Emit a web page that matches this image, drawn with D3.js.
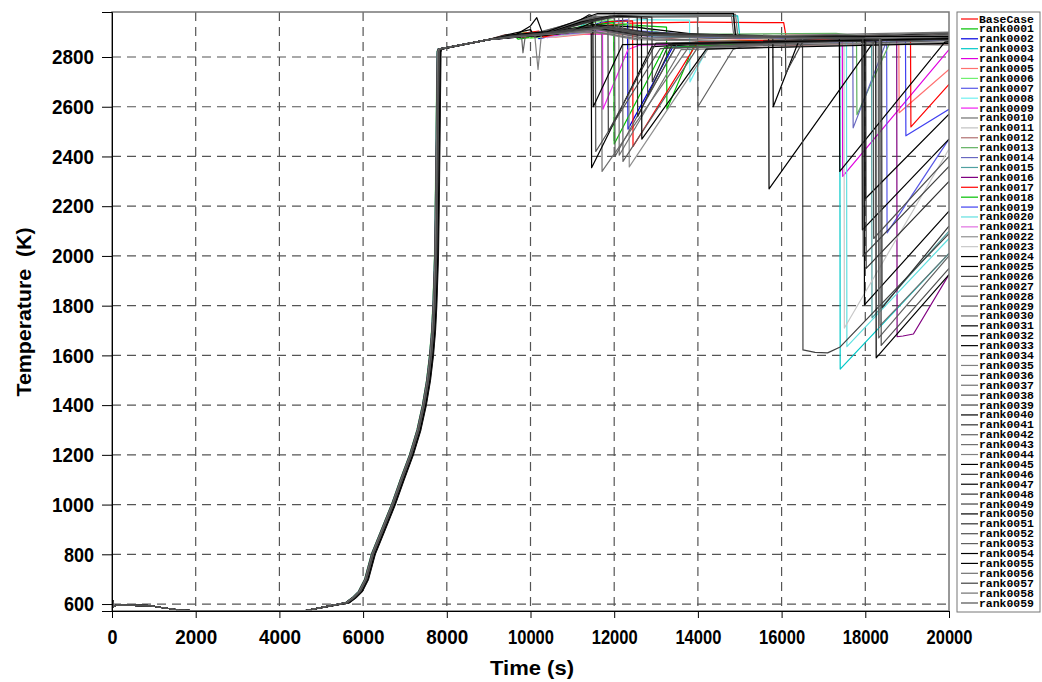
<!DOCTYPE html>
<html>
<head>
<meta charset="utf-8">
<script src="https://cdn.jsdelivr.net/npm/d3@7"></script>
<style>
  body { margin: 0; background: #fff; }
  .tick text { font-family: "Liberation Sans", Arial, sans-serif; font-weight: bold; font-size: 21px; fill: #000; }
  .title { font-family: "Liberation Sans", Arial, sans-serif; font-weight: bold; font-size: 21px; fill: #000; }
  .legend text { font-family: "Liberation Mono", "Courier New", monospace; font-weight: bold; font-size: 10px; fill: #000; }
</style>
</head>
<body>
<div id="chart"></div>
<script>
'use strict'

// legend entries, in drawing order
const seriesNames = ['BaseCase',
  'rank0001','rank0002','rank0003','rank0004','rank0005','rank0006','rank0007','rank0008','rank0009','rank0010',
  'rank0011','rank0012','rank0013','rank0014','rank0015','rank0016','rank0017','rank0018','rank0019','rank0020',
  'rank0021','rank0022','rank0023','rank0024','rank0025','rank0026','rank0027','rank0028','rank0029','rank0030',
  'rank0031','rank0032','rank0033','rank0034','rank0035','rank0036','rank0037','rank0038','rank0039','rank0040',
  'rank0041','rank0042','rank0043','rank0044','rank0045','rank0046','rank0047','rank0048','rank0049','rank0050',
  'rank0051','rank0052','rank0053','rank0054','rank0055','rank0056','rank0057','rank0058','rank0059']

const seriesColors = ['#ff0000',
  '#00c000','#0000e0','#00c8c8','#e000e0','#ff7070','#70f070','#5858e8','#70f0f0','#f020f0','#707070',
  '#c0c0c0','#b07070','#60b060','#6868c0','#50a0a0','#800080','#ff0000','#00c000','#4040f0','#60e0e0',
  '#e070e0','#909090','#c8c8c8','#000000','#000000','#404040','#707070','#606060','#505050','#606060',
  '#000000','#000000','#000000','#707070','#808080','#606060','#707070','#505050','#404040','#000000',
  '#303030','#606060','#707070','#808080','#000000','#303030','#000000','#303030','#404040','#000000',
  '#303030','#505050','#606060','#000000','#000000','#707070','#404040','#707070','#505050']

// small time offset (s) of the heat-up ramp of each run
const riseShift = [0,15,-10,20,5,30,-15,35,10,20,5,45,25,-10,30,15,50,5,20,-5,40,15,10,25,0,60,15,25,35,5,
  20,80,0,30,15,45,10,-10,25,20,15,55,5,25,40,15,70,0,30,15,25,5,40,15,65,10,25,20,0,35]

// common heat-up history (time s, temperature K)
const baseTime = [0,30,120,900,1100,1600,2000,4600,5600,5750,5900,6050,6210,6450,6690,6900,7120,7300,7430,7530,7600,7650,7680,7720,7745,7765,7780,7800,9000]
const baseTemp = [630,590,596,594,588,576,573,573,606,625,650,700,800,900,1000,1100,1200,1300,1400,1500,1600,1700,1800,2000,2300,2600,2820,2832,2870]

// individual histories after 9000 s: [time, temperature]
const tails = [
  [[9400,2884],[10000,2878],[10600,2896],[11200,2905],[11700,2926],[12400,2936],[14000,2940],[16050,2938],[16100,2888],[18000,2883],[20000,2889]],
  [[9600,2890],[9700,2872],[10300,2886],[11000,2896],[11600,2922],[12200,2930],[13250,2920],[13260,2590],[13950,2862],[16500,2870],[20000,2882]],
  [[9500,2878],[10100,2892],[10200,2874],[11000,2900],[11700,2940],[12320,2948],[12330,2510],[13400,2840],[16000,2855],[20000,2872]],
  [[9700,2888],[10500,2898],[11100,2915],[11500,2952],[12000,2962],[14950,2966],[15000,2882],[17390,2877],[17400,1545],[20000,2010]],
  [[9500,2882],[10400,2890],[11200,2893],[12000,2891],[14000,2890],[14800,2884],[17450,2880],[17460,2320],[20000,2830]],
  [[9800,2885],[10600,2880],[11500,2895],[12400,2888],[15000,2872],[18800,2878],[18810,2576],[20000,2750]],
  [[9300,2880],[9900,2900],[10000,2875],[10800,2890],[11400,2935],[11900,2950],[12500,2925],[13500,2880],[20000,2883]],
  [[9600,2886],[10700,2902],[11400,2925],[12600,2905],[15000,2875],[18510,2872],[18520,2093],[20000,2470]],
  [[9500,2880],[10500,2895],[11600,2930],[12600,2950],[13800,2948],[13810,2700],[14300,2858],[17000,2868],[20000,2878]],
  [[9600,2884],[10300,2898],[10400,2878],[11100,2905],[11720,2925],[11730,2590],[12330,2830],[12600,2848],[20000,2872]],
  [[9800,2890],[10600,2905],[11300,2950],[11700,2962],[11710,2340],[13800,2845],[20000,2895]],
  [[9500,2886],[10500,2880],[11500,2900],[12500,2880],[16000,2850],[20000,2860]],
  [[9400,2890],[10400,2888],[11200,2910],[12200,2895],[15000,2845],[20000,2852]],
  [[9700,2880],[10600,2896],[11500,2912],[12500,2890],[17300,2895],[17790,2886],[17800,2568],[18600,2862],[20000,2870]],
  [[9600,2884],[10800,2893],[11800,2905],[13000,2880],[17700,2878],[17710,2515],[18500,2860],[20000,2868]],
  [[9500,2882],[10500,2890],[11600,2915],[12800,2888],[18150,2874],[18160,1751],[20000,2100]],
  [[9700,2880],[10700,2898],[11900,2920],[13000,2886],[18750,2872],[18760,1675],[18900,1678],[19150,1686],[20000,1925]],
  [[9500,2888],[10200,2904],[10300,2880],[11200,2915],[11900,2942],[12440,2945],[12450,2440],[14000,2862],[17000,2870],[19080,2875],[19090,2519],[20000,2690]],
  [[9600,2882],[10400,2894],[11300,2925],[11990,2938],[12000,2450],[13200,2838],[20000,2885]],
  [[9800,2886],[10900,2900],[12000,2912],[13500,2880],[18960,2876],[18970,2483],[20000,2590]],
  [[9500,2880],[10500,2892],[11700,2918],[12900,2885],[17550,2876],[17560,1635],[20000,2070]],
  [[9600,2888],[10600,2895],[11600,2905],[12600,2896],[16000,2880],[20000,2884]],
  [[9700,2884],[10500,2902],[11200,2935],[11800,2958],[12350,2960],[12360,2358],[14250,2835],[20000,2890]],
  [[9500,2882],[10700,2896],[11800,2920],[13000,2890],[17490,2876],[17500,1710],[20000,2430]],
  [[9400,2888],[10000,2910],[10100,2880],[10800,2900],[11150,2945],[11400,2970],[11450,2968],[11460,2355],[12900,2842],[20000,2898]],
  [[9600,2880],[10600,2892],[11500,2930],[12500,2920],[14000,2890],[15690,2878],[15700,2270],[18230,2868],[20000,2878]],
  [[9700,2886],[10800,2898],[11900,2925],[13000,2892],[16500,2875],[16510,1622],[16800,1612],[17100,1610],[17400,1634],[20000,2090]],
  [[9500,2884],[10400,2900],[11100,2940],[11600,2962],[12110,2960],[12120,2405],[13600,2830],[20000,2858]],
  [[9600,2880],[10300,2896],[11000,2930],[11500,2955],[12010,2958],[12020,2400],[13450,2836],[20000,2866]],
  [[9800,2888],[10600,2905],[11400,2945],[12000,2965],[12790,2955],[12800,2640],[13500,2850],[20000,2872]],
  [[9500,2886],[10500,2900],[11300,2935],[12000,2960],[13990,2962],[14000,2600],[14840,2830],[15200,2850],[20000,2874]],
  [[9700,2882],[10700,2896],[11600,2925],[12600,2900],[15790,2875],[15800,2600],[16400,2860],[20000,2873]],
  [[9600,2884],[10500,2895],[11400,2920],[12400,2898],[17920,2878],[17930,2105],[20000,2470]],
  [[9500,2880],[10600,2892],[11700,2915],[12700,2890],[17970,2877],[17980,1803],[20000,2180]],
  [[9700,2888],[10400,2902],[11100,2935],[11700,2960],[14850,2964],[14900,2882],[20000,2880]],
  [[9400,2882],[10300,2895],[11200,2912],[12500,2870],[20000,2848]],
  [[9600,2886],[10700,2898],[11800,2920],[12900,2886],[18310,2874],[18320,1670],[20000,2000]],
  [[9500,2884],[10200,2900],[10900,2930],[11500,2962],[14800,2968],[14860,2884],[20000,2882]],
  [[9700,2886],[10600,2900],[11200,2940],[11550,2960],[11560,2420],[13100,2834],[20000,2892]],
  [[9600,2880],[10500,2898],[11300,2940],[11850,2958],[11860,2500],[13000,2856],[20000,2876]],
  [[9500,2888],[10400,2900],[11400,2925],[12500,2895],[18250,2872],[18260,1590],[20000,1925]],
  [[9700,2884],[10800,2896],[11900,2918],[13000,2888],[18390,2874],[18400,1791],[20000,2120]],
  [[9400,2886],[10300,2902],[11100,2942],[11700,2962],[12200,2965],[12210,2380],[14000,2840],[20000,2886]],
  [[9600,2882],[10400,2900],[11000,2935],[11600,2970],[14900,2972],[14950,2886],[20000,2884]],
  [[9500,2884],[10100,2890],[10180,2750],[10260,2890],[11000,2900],[12000,2895],[16000,2872],[20000,2880]],
  [[9700,2880],[10700,2895],[11800,2918],[12800,2892],[17380,2878],[17390,2340],[19900,2860],[20000,2862]],
  [[9600,2886],[10500,2900],[11300,2938],[12000,2962],[12550,2962],[12560,2560],[13400,2855],[20000,2875]],
  [[9500,2882],[10400,2896],[11200,2940],[11900,2965],[12650,2962],[12660,2470],[14200,2832],[20000,2855]],
  [[9700,2888],[10600,2904],[11400,2946],[12100,2968],[12900,2960],[12910,2700],[13300,2850],[20000,2872]],
  [[9500,2884],[10500,2898],[11400,2925],[12500,2900],[16090,2880],[16100,2735],[16500,2860],[20000,2876]],
  [[9600,2886],[10600,2896],[11700,2920],[12800,2890],[17990,2876],[18000,2230],[20000,2570]],
  [[9400,2882],[10400,2894],[11500,2915],[12600,2888],[18010,2874],[18020,1950],[20000,2300]],
  [[9700,2884],[10700,2898],[11800,2922],[12900,2890],[18190,2874],[18200,2070],[20000,2400]],
  [[9500,2886],[9780,2895],[9820,2817],[9880,2890],[10600,2900],[11600,2910],[13000,2868],[20000,2897]],
  [[9600,2884],[10000,2925],[10150,2958],[10300,2890],[11000,2905],[11490,2940],[11500,2600],[12200,2850],[20000,2874]],
  [[9500,2888],[10400,2902],[11100,2945],[11600,2975],[14850,2976],[14900,2885],[20000,2882]],
  [[9700,2882],[10800,2896],[11800,2916],[12900,2888],[18340,2874],[18350,1720],[20000,2010]],
  [[9600,2886],[10500,2898],[11600,2920],[12700,2892],[17940,2876],[17950,2000],[20000,2360]],
  [[9500,2880],[10400,2892],[11400,2905],[12500,2875],[20000,2900]],
  [[9700,2884],[10700,2898],[11700,2918],[12800,2888],[18370,2874],[18380,1640],[20000,1950]]
]

const xTicks = [0,2000,4000,6000,8000,10000,12000,14000,16000,18000,20000]
const yTicks = [600,800,1000,1200,1400,1600,1800,2000,2200,2400,2600,2800]

////////////////////////////////////
//////////// svg setup /////////////
////////////////////////////////////

const svgWidth = 1042
const svgHeight = 682
const plot = {left: 112, right: 949, top: 12, bottom: 611}

// condensed look of the original lettering: squeeze each label to its measured width
const labelWidth = {1: 10, 3: 30, 4: 42, 5: 46}

const svg = d3.select('#chart').append('svg')
    .attr('width', svgWidth)
    .attr('height', svgHeight)

const x = d3.scaleLinear().domain([0, 20000]).range([plot.left, plot.right])
const y = d3.scaleLinear().domain([572, 2981]).range([plot.bottom, plot.top])

svg.append('clipPath').attr('id', 'plot-clip')
    .append('rect')
    .attr('x', plot.left).attr('y', plot.top)
    .attr('width', plot.right - plot.left).attr('height', plot.bottom - plot.top)

// dashed grid
const grid = svg.append('g').attr('stroke', '#555').attr('stroke-width', 1.2).attr('stroke-dasharray', '9,6')
grid.selectAll('.vgrid').data(xTicks.slice(1, -1)).join('line')
    .attr('x1', d => x(d)).attr('x2', d => x(d))
    .attr('y1', plot.top).attr('y2', plot.bottom)
grid.selectAll('.hgrid').data(yTicks).join('line')
    .attr('y1', d => y(d)).attr('y2', d => y(d))
    .attr('x1', plot.left).attr('x2', plot.right)

// runs
const series = seriesNames.map((name, i) => {
    const pts = baseTime.map((t, k) => [(t > 5500 && t < 8000) ? t + riseShift[i] : t, baseTemp[k]])
    return {name: name, color: seriesColors[i], points: pts.concat(tails[i])}
})

const line = d3.line().x(d => x(d[0])).y(d => y(d[1]))

svg.append('g').attr('clip-path', 'url(#plot-clip)')
    .selectAll('path').data(series).join('path')
    .attr('d', d => line(d.points))
    .attr('fill', 'none')
    .attr('stroke', d => d.color)
    .attr('stroke-width', 1.2)
    .attr('stroke-linejoin', 'round')

// frame
svg.append('rect')
    .attr('x', plot.left).attr('y', plot.top)
    .attr('width', plot.right - plot.left).attr('height', plot.bottom - plot.top)
    .attr('fill', 'none').attr('stroke', '#777').attr('stroke-width', 1.5)

// axes
const xAxis = svg.append('g')
    .attr('transform', `translate(0,${plot.bottom})`)
    .call(d3.axisBottom(x).tickValues(xTicks).tickFormat(d3.format('d')).tickSize(7).tickPadding(11))
xAxis.select('.domain').attr('stroke', '#000')

const yAxis = svg.append('g')
    .attr('transform', `translate(${plot.left},0)`)
    .call(d3.axisLeft(y).tickValues(yTicks).tickFormat(d3.format('d')).tickSize(10).tickPadding(8))
yAxis.select('.domain').attr('stroke', '#000')

svg.selectAll('.tick text')
    .attr('textLength', d => labelWidth[String(d).length])
    .attr('lengthAdjust', 'spacingAndGlyphs')

svg.append('text').attr('class', 'title')
    .attr('x', 532).attr('y', 675)
    .attr('text-anchor', 'middle')
    .attr('textLength', 84).attr('lengthAdjust', 'spacingAndGlyphs')
    .text('Time (s)')

svg.append('text').attr('class', 'title')
    .attr('transform', 'translate(31,312) rotate(-90)')
    .attr('text-anchor', 'middle')
    .attr('textLength', 169).attr('lengthAdjust', 'spacingAndGlyphs')
    .style('white-space', 'pre')
    .text('Temperature  (K)')

// legend
const legendY = d3.scaleLinear().domain([0, seriesNames.length - 1]).range([19, 603])
const legend = svg.append('g').attr('class', 'legend')

legend.append('rect')
    .attr('x', 957).attr('y', 12).attr('width', 83).attr('height', 600)
    .attr('fill', '#fff').attr('stroke', '#777').attr('stroke-width', 1)

const item = legend.selectAll('.item').data(series).join('g')
    .attr('transform', (d, i) => `translate(0,${legendY(i)})`)
item.append('line')
    .attr('x1', 961).attr('x2', 978).attr('y1', 0).attr('y2', 0)
    .attr('stroke', d => d.color).attr('stroke-width', 1.2)
item.append('text')
    .attr('x', 979).attr('y', 3.5)
    .attr('textLength', 55).attr('lengthAdjust', 'spacingAndGlyphs')
    .text(d => d.name)
</script>
</body>
</html>
